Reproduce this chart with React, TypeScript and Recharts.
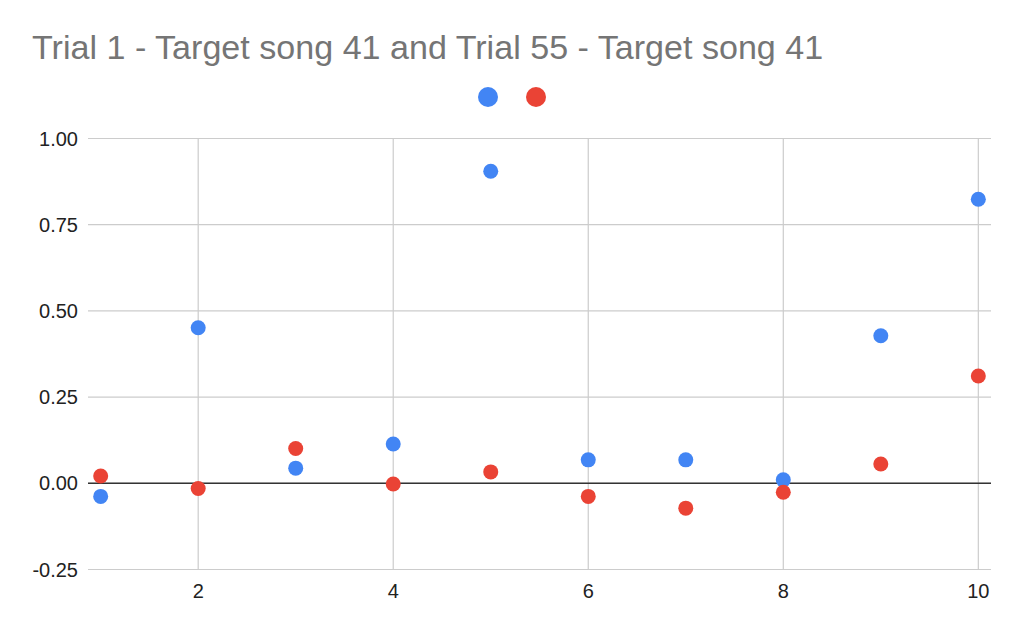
import React from "react";
import {
  ScatterChart,
  Scatter,
  XAxis,
  YAxis,
  CartesianGrid,
  ReferenceLine,
  Legend,
} from "recharts";

const xValues = [1, 2, 3, 4, 5, 6, 7, 8, 9, 10];
const trial1Values = [-0.038, 0.451, 0.044, 0.114, 0.905, 0.068, 0.068, 0.01, 0.428, 0.824];
const trial55Values = [0.021, -0.015, 0.101, -0.002, 0.033, -0.038, -0.072, -0.026, 0.056, 0.311];
const xTicks = [2, 4, 6, 8, 10];
const yTicks = [-0.25, 0, 0.25, 0.5, 0.75, 1];

const seriesNames = ["Trial 1 - Target song 41", "Trial 55 - Target song 41"];
const title = "Trial 1 - Target song 41 and Trial 55 - Target song 41";
const BLUE = "#4285F4";
const RED = "#EA4335";
const FONT = "'Liberation Sans', Arial, sans-serif";

const trial1Data = xValues.map((x, i) => ({ x, y: trial1Values[i] }));
const trial55Data = xValues.map((x, i) => ({ x, y: trial55Values[i] }));

const makeDot = (color: string) => (props: any) => {
  const { cx, cy } = props;
  if (cx == null || cy == null) return <g />;
  return <circle cx={cx} cy={cy} r={7.5} fill={color} />;
};

const LegendContent = () => (
  <div
    style={{
      display: "flex",
      justifyContent: "center",
      alignItems: "center",
      gap: 28,
      height: 20,
    }}
  >
    {[BLUE, RED].map((c, i) => (
      <svg key={i} width={20} height={20} aria-label={seriesNames[i]}>
        <circle cx={10} cy={10} r={10} fill={c} />
      </svg>
    ))}
  </div>
);

export default function App() {
  return (
    <div
      style={{
        position: "absolute",
        left: 0,
        top: 0,
        width: 1024,
        height: 633,
        background: "#fff",
        fontFamily: FONT,
      }}
    >
      <svg
        width={1024}
        height={80}
        style={{ position: "absolute", left: 0, top: 0 }}
      >
        <text x={32} y={59.3} fontSize={34.1} fill="#757575" fontFamily={FONT}>
          {title}
        </text>
      </svg>
      <div style={{ position: "absolute", left: 0, top: 0 }}>
        <ScatterChart
          width={1024}
          height={633}
          margin={{ top: 138.5, right: 33, bottom: 0, left: 0 }}
        >
          <CartesianGrid stroke="#cccccc" strokeWidth={1.2} syncWithTicks />
          <XAxis
            type="number"
            dataKey="x"
            domain={[0.87, 10.13]}
            ticks={xTicks}
            allowDataOverflow
            axisLine={false}
            tickLine={false}
            tickSize={6}
            tickMargin={8}
            height={63.5}
            tick={{ fill: "#222222", fontSize: 20, fontFamily: FONT }}
          />
          <YAxis
            type="number"
            dataKey="y"
            domain={[-0.25, 1]}
            ticks={yTicks}
            allowDataOverflow
            axisLine={false}
            tickLine={false}
            tickSize={6}
            tickMargin={4}
            width={88}
            tickFormatter={(v: number) => v.toFixed(2)}
            tick={{ fill: "#222222", fontSize: 20, fontFamily: FONT }}
          />
          <ReferenceLine y={0} stroke="#333333" strokeWidth={1.5} />
          <Legend
            layout="horizontal"
            verticalAlign="middle"
            align="center"
            content={<LegendContent />}
            wrapperStyle={{ position: "absolute", top: 87, left: 0, width: 1024, height: 20 }}
          />
          <Scatter
            name={seriesNames[0]}
            data={trial1Data}
            fill={BLUE}
            shape={makeDot(BLUE)}
            isAnimationActive={false}
          />
          <Scatter
            name={seriesNames[1]}
            data={trial55Data}
            fill={RED}
            shape={makeDot(RED)}
            isAnimationActive={false}
          />
        </ScatterChart>
      </div>
    </div>
  );
}
